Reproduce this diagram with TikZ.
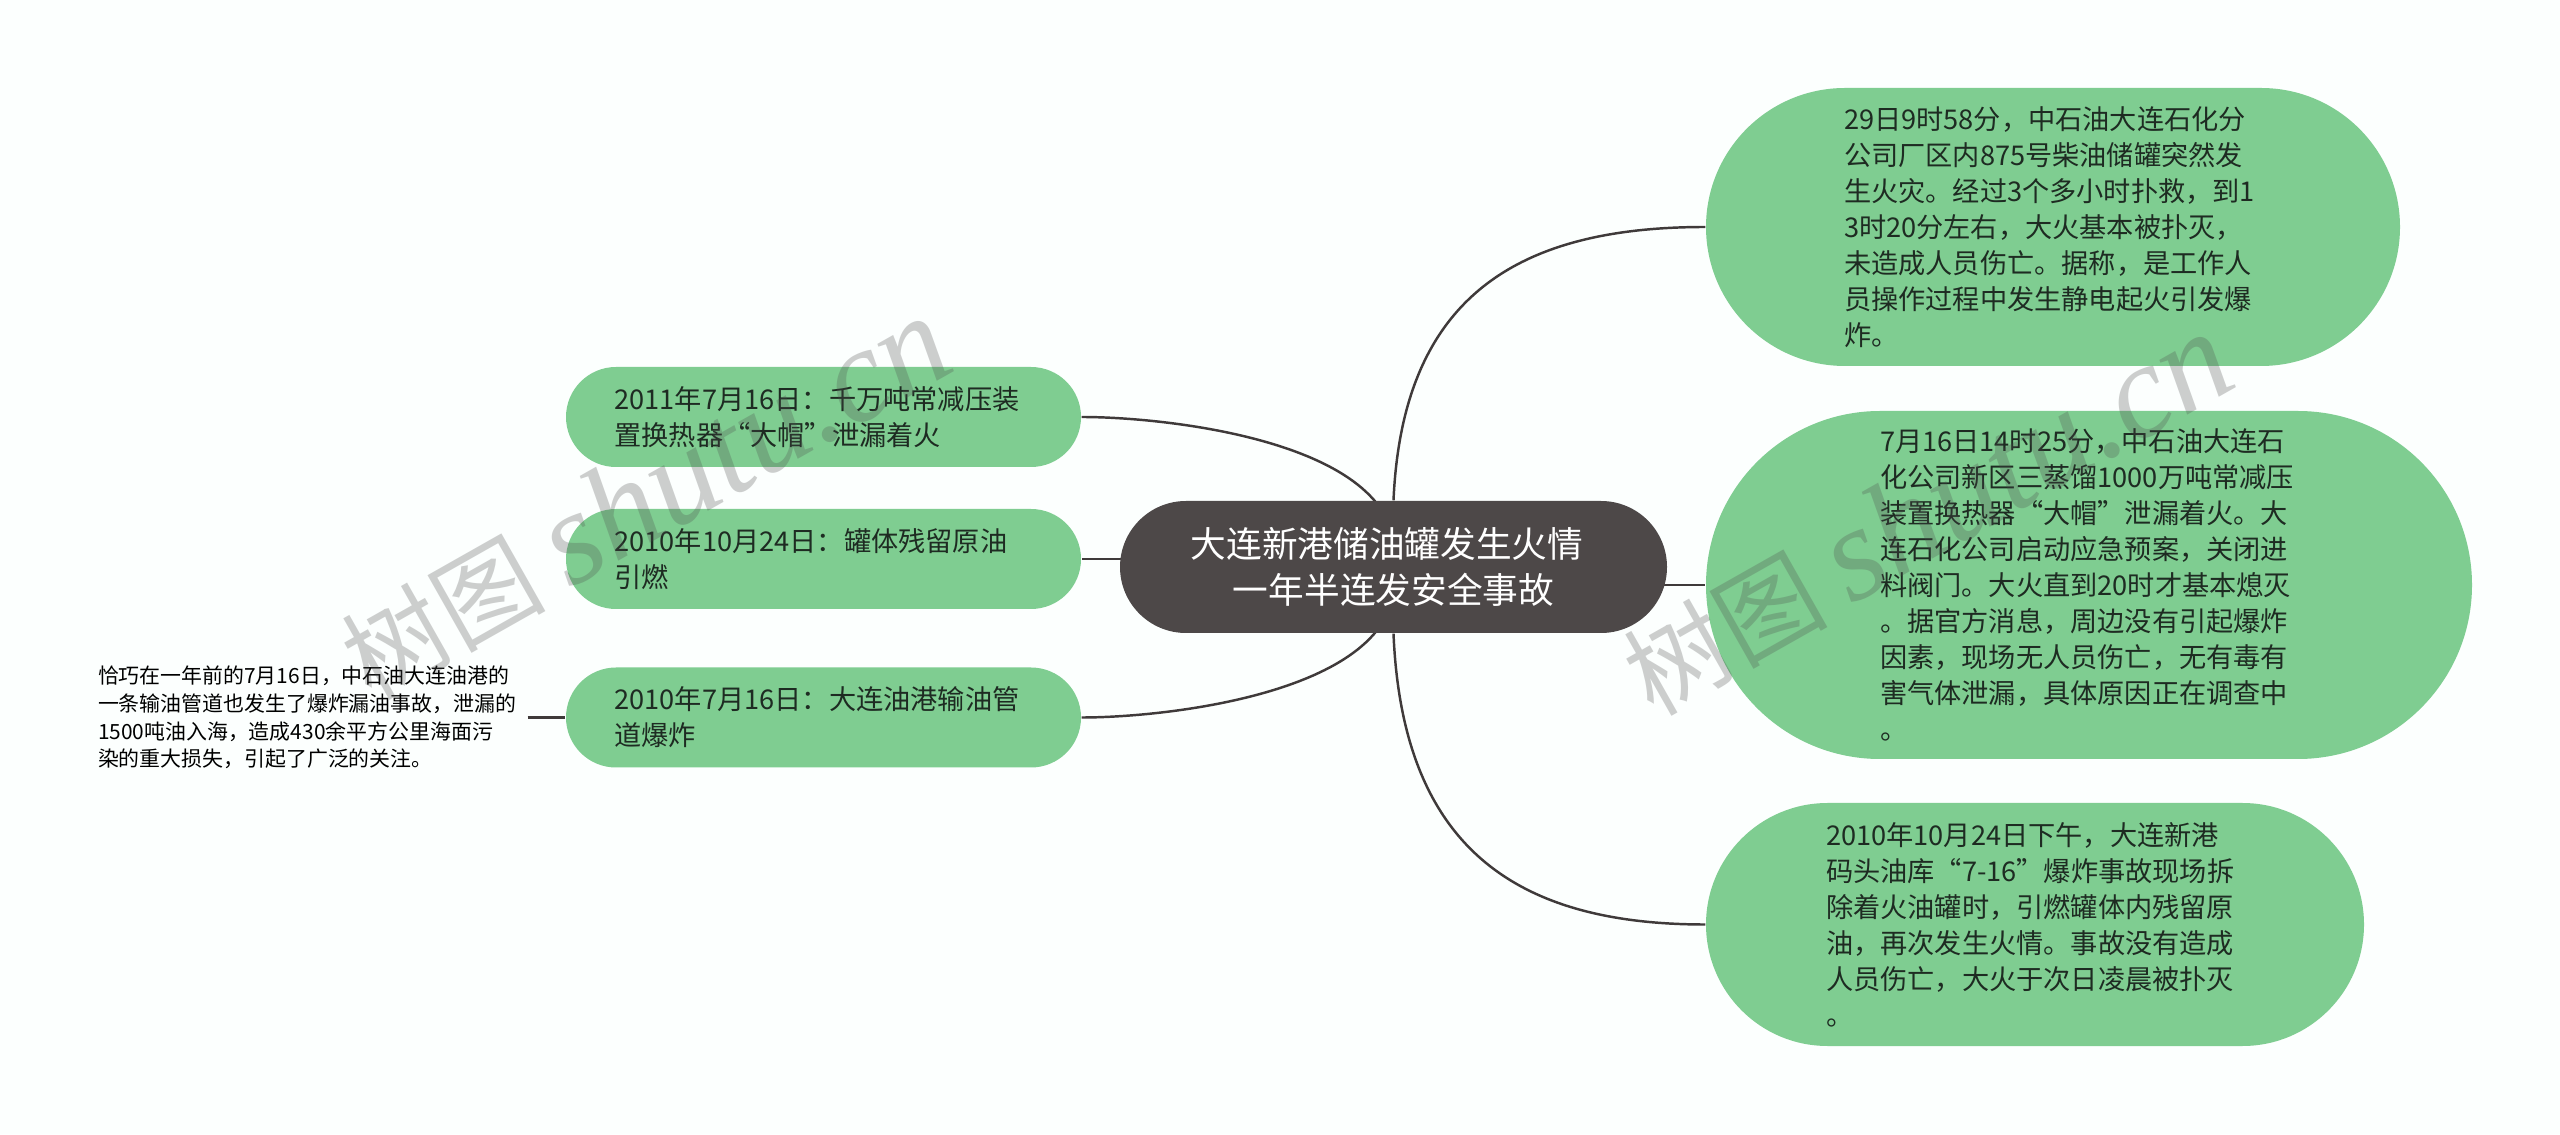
\documentclass[tikz,border=0pt]{standalone}
\usepackage{fontspec}
\setmainfont{Noto Sans CJK SC}
\newfontfamily\wmlatin{Liberation Serif}
\definecolor{pagebg}{HTML}{FCFFFE}
\definecolor{leafgreen}{HTML}{7FCD91}
\definecolor{topicgrey}{HTML}{4D4848}
\definecolor{linkgrey}{HTML}{3F3A3A}
\definecolor{textdark}{HTML}{1E2B22}
\pgfdeclarelayer{background}
\pgfsetlayers{background,main}
\tikzset{
  leaf/.style={fill=leafgreen, text=textdark, align=left, inner ysep=0pt, text width=4.18cm,
    font=\fontsize{7.74}{10.24}\selectfont},
  smallleaf/.style={leaf, inner xsep=0.485cm, minimum height=1cm, rounded corners=0.5cm},
  topicbox/.style={fill=topicgrey, text=white, align=center, inner sep=0pt,
    font=\fontsize{10.15}{13.1}\selectfont},
  notebox/.style={text=black, align=left, inner sep=0pt, text width=4.29cm,
    font=\fontsize{5.95}{7.9}\selectfont},
  link/.style={draw=linkgrey, line width=0.7pt},
  wmark/.style={text=black!70, opacity=0.27, rotate=29.5, inner sep=0pt,
    font=\fontsize{29}{29}\selectfont}
}

\begin{document}
\begin{tikzpicture}
         \useasboundingbox (0, 0) rectangle (25.6, 11.34);
         \node [topicbox, minimum width=5.47cm, minimum height=1.32cm, rounded corners=0.66cm] (topic) at (13.935, 5.67) {大连新港储油罐发生火情\hspace*{0.13cm}\\一年半连发安全事故};
         \node [leaf, inner xsep=1.38cm, minimum height=2.78cm, rounded corners=1.39cm] (RT) at (20.53, 9.07) {29日9时58分，中石油大连石化分\\公司厂区内875号柴油储罐突然发\\生火灾。经过3个多小时扑救，到1\\3时20分左右，大火基本被扑灭，\\未造成人员伤亡。据称，是工作人\\员操作过程中发生静电起火引发爆\\炸。};
         \node [leaf, inner xsep=1.74cm, minimum height=3.48cm, rounded corners=1.74cm] (RM) at (20.89, 5.49) {7月16日14时25分，中石油大连石\\化公司新区三蒸馏1000万吨常减压\\装置换热器“大帽”泄漏着火。大\\连石化公司启动应急预案，关闭进\\料阀门。大火直到20时才基本熄灭\\。据官方消息，周边没有引起爆炸\\因素，现场无人员伤亡，无有毒有\\害气体泄漏，具体原因正在调查中\\。};
         \node [leaf, inner xsep=1.2cm, minimum height=2.43cm, rounded corners=1.215cm] (RB) at (20.35, 2.095) {2010年10月24日下午，大连新港\\码头油库“7-16”爆炸事故现场拆\\除着火油罐时，引燃罐体内残留原\\油，再次发生火情。事故没有造成\\人员伤亡，大火于次日凌晨被扑灭\\。};
         \node [smallleaf] (LT) at (8.235, 7.17) {2011年7月16日：千万吨常减压装\\置换热器“大帽”泄漏着火};
         \node [smallleaf] (LM) at (8.235, 5.75) {2010年10月24日：罐体残留原油\\引燃};
         \node [smallleaf] (LB) at (8.235, 4.165) {2010年7月16日：大连油港输油管\\道爆炸};
         \node [notebox] (note) at (3.125, 4.165) {恰巧在一年前的7月16日，中石油大连油港的\\一条输油管道也发生了爆炸漏油事故，泄漏的\\1500吨油入海，造成430余平方公里海面污\\染的重大损失，引起了广泛的关注。};
         \begin{pgfonlayer}{background}
         \fill [pagebg] (0, 0) rectangle (25.6, 11.34);
         \draw [link] (topic.north) .. controls +(0.09, 2.05) and +(-1.86, 0) .. (RT.west);
         \draw [link] (RM.west -| topic.center) -- (RM.west);
         \draw [link] (topic.south) .. controls +(0.09, -2.17) and +(-1.86, 0) .. (RB.west);
         \draw [link] (topic.center) .. controls +(0.2, 1.23) and +(0.9, 0) .. (LT.east);
         \draw [link] (LM.east -| topic.center) -- (LM.east);
         \draw [link] (topic.center) .. controls +(0.2, -1.23) and +(0.9, 0) .. (LB.east);
         \draw [link] (note.east) -- (LB.west);
         \end{pgfonlayer}
         \node [wmark] (markL) at (6.45, 6.36) {树图 {\wmlatin\itshape\fontsize{38}{38}\selectfont shutu.cn}};
         \node [wmark] (markR) at (19.27, 6.2) {树图 {\wmlatin\itshape\fontsize{38}{38}\selectfont shutu.cn}};
 \end{tikzpicture}
\end{document}
